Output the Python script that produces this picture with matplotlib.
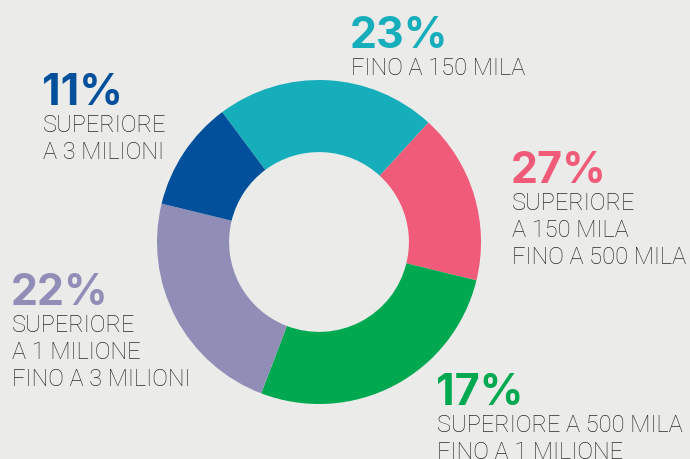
import matplotlib.pyplot as plt

# fette disegnate e testi delle etichette
categorie = ['fino 150k', '150k-500k', '500k-1M', '1M-3M', 'oltre 3M']
quote = [22, 17, 27, 23, 11]
colori = ['#17aebb', '#ef5b78', '#00a84f', '#908eb6', '#02509b']
percentuali = ['23%', '27%', '17%', '22%', '11%']
descrizioni = [
    'FINO A 150 MILA',
    'SUPERIORE\nA 150 MILA\nFINO A 500 MILA',
    'SUPERIORE A 500 MILA\nFINO A 1 MILIONE',
    'SUPERIORE\nA 1 MILIONE\nFINO A 3 MILIONI',
    'SUPERIORE\nA 3 MILIONI',
]
# posizione (pixel) del numero: sinistra, linea di base
pos_etichette = [(350, 48), (511, 183), (436, 405), (11, 305), (42, 105)]

W, H = 690, 459
sfondo = '#ebebe9'

fig = plt.figure(figsize=(W / 100, H / 100), dpi=100, facecolor=sfondo)

def px(x, y):
    return x / W, 1 - y / H

cx, cy, r = 319, 242, 162
ax = fig.add_axes([(cx - r) / W, (H - cy - r) / H, 2 * r / W, 2 * r / H])
ax.set_facecolor(sfondo)
ax.pie(quote, colors=colori, startangle=126.7, counterclock=False,
       radius=1, wedgeprops=dict(width=0.445, edgecolor='none'))
ax.set_xlim(-1, 1)
ax.set_ylim(-1, 1)
ax.axis('off')

for perc, desc, col, (x, y) in zip(percentuali, descrizioni, colori, pos_etichette):
    fx, fy = px(x, y)
    fig.text(fx, fy, perc, color=col, fontsize=31, fontweight='bold',
             family='Inter', ha='left', va='baseline')
    righe = desc.split('\n')
    for i, riga in enumerate(righe):
        fx2, fy2 = px(x + 1, y + 27 * (i + 1))
        fig.text(fx2, fy2, riga, color='#2a2a2a', fontsize=17,
                 family='Roboto', fontweight='light', ha='left', va='baseline')

fig.savefig('out.png', dpi=100, facecolor=sfondo)
